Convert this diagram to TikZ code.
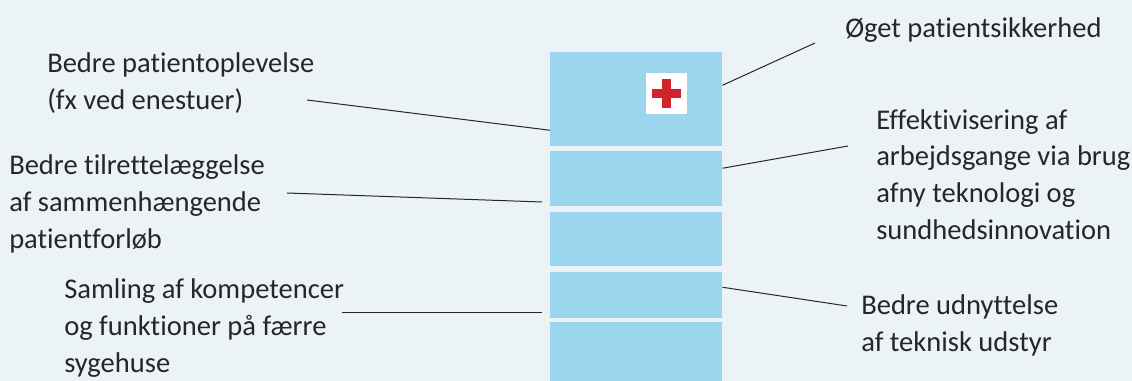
\documentclass[tikz,border=0pt]{standalone}
\usepackage{fontspec}
\setmainfont{Carlito}[Ligatures=NoCommon]
\usepackage{xcolor}
\usepackage{tikz}
\usetikzlibrary{positioning}
\definecolor{pagebg}{RGB}{235,243,247}
\definecolor{wardblue}{RGB}{156,214,238}
\definecolor{crossred}{RGB}{210,35,42}

\begin{document}
\begin{tikzpicture}[
  x=0.75pt, y=-0.75pt,
  lbl/.style={anchor=west, align=left, inner sep=0pt, text=black!85,
              font=\fontsize{21.4}{27.5}\selectfont},
  ward/.style={rectangle, fill=wardblue, minimum width=129pt, inner sep=0pt, anchor=north west},
  conn/.style={line width=0.75pt, black!85},
  crossbar/.style={rectangle, fill=crossred, inner sep=0pt}
]
\useasboundingbox (0,0) rectangle (1132,381);
\fill[pagebg] (0,0) rectangle (1132,381);

%% Building floors
\node[ward, minimum height=70.5pt] (fa) at (550,52) {};
\node[ward, minimum height=41.25pt] (fb) at (550,151) {};
\node[ward, minimum height=40.5pt] (fc) at (550,212) {};
\node[ward, minimum height=34.5pt] (fd) at (550,272) {};
\node[ward, minimum height=44.25pt] (fe) at (550,322) {};

%% Red cross
\node[rectangle, fill=white, minimum size=30.75pt, inner sep=0pt] (sq) at (666.5,93.5) {};
\node[crossbar, minimum width=21.75pt, minimum height=6.75pt] (crh) at (sq.center) {};
\node[crossbar, minimum width=6.75pt, minimum height=21.75pt] (crv) at (sq.center) {};

%% Left labels
\node[lbl] (lpat) at (47,83) {Bedre patientoplevelse\\(fx ved enestuer)};
\node[lbl] (lfor) at (9,204) {Bedre tilrettelæggelse\\af sammenhængende\\patientforløb};
\node[lbl] (lkom) at (64,328) {Samling af kompetencer\\og funktioner på færre\\sygehuse};

%% Right labels
\node[lbl] (rsik) at (845,30) {Øget patientsikkerhed};
\node[lbl] (reff) at (876,174.5) {Effektivisering af\\arbejdsgange via brug\\afny teknologi og\\sundhedsinnovation};
\node[lbl] (rudn) at (861,325.5) {Bedre udnyttelse\\af teknisk udstyr};

%% Connector ends
\coordinate (apat) at (307,100);
\coordinate (afor) at (287,193);
\coordinate (bfor) at (542,202);
\coordinate (akom) at (342,312);
\coordinate (bkom) at (542,312);
\coordinate (asik) at (815,43);
\coordinate (aeff) at (848,146);
\coordinate (audn) at (847,306);

%% Connectors
\draw[conn] (apat) -- ([yshift=-23.25pt]fa.west);
\draw[conn] (afor) -- (bfor);
\draw[conn] (akom) -- (bkom);
\draw[conn] (asik) -- ([yshift=10.5pt]fa.east);
\draw[conn] (aeff) -- ([yshift=7.9pt]fb.east);
\draw[conn] (audn) -- ([yshift=6pt]fd.east);

\end{tikzpicture}
\end{document}
